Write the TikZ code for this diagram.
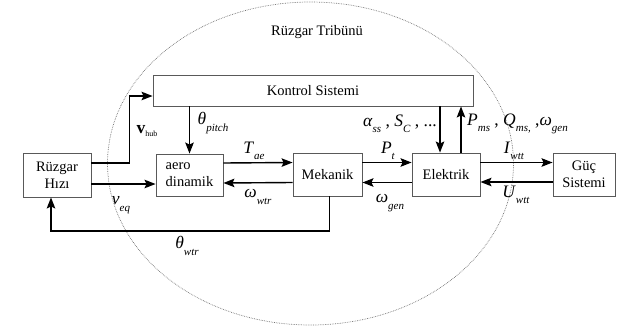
\documentclass[tikz,border=0pt]{standalone}
\usepackage{fontspec}
\setmainfont{Liberation Serif}
\usetikzlibrary{arrows.meta}
\begin{document}
\begin{tikzpicture}[x=1pt,y=-1pt,
    blok/.style={draw=black!65, line width=0.9pt, fill=white, inner sep=0pt, align=center, font=\fontsize{14.5}{17}\selectfont},
    ok/.style={line width=1.4pt, -{Stealth[length=11pt,width=8.5pt,inset=2pt]}},
    lbl/.style={inner sep=0pt, font=\fontsize{17.5}{17.5}\selectfont}]

    \useasboundingbox (0,0) rectangle (620,329);

    % Symbol with lowered subscript
    \def\sym#1#2{\textit{#1}\raisebox{-0.8ex}{\fontsize{11}{11}\selectfont\textit{#2}}}

    % Turbine boundary
    \draw[densely dotted, black!55, line width=0.7pt] (310.5,163.5) ellipse (203 and 161.5);
    \node[font=\fontsize{14.5}{17}\selectfont] (baslik) at (317,32) {Rüzgar Tribünü};

    % Blocks
    \node[blok, minimum width=68pt, minimum height=44pt] (hiz) at (57,175) {Rüzgar\\Hızı};
    \node[blok, minimum width=67pt, minimum height=42pt, align=left] (aero) at (189.5,175) {aero\\dinamik};
    \node[blok, minimum width=69pt, minimum height=43pt] (mek) at (327.5,174.5) {Mekanik};
    \node[blok, minimum width=68pt, minimum height=43pt] (elek) at (446,174.5) {Elektrik};
    \node[blok, minimum width=62pt, minimum height=43pt] (guc) at (584,174.5) {Güç\\Sistemi};
    \node[blok, minimum width=320pt, minimum height=31pt] (kontrol) at (313,90.5) {Kontrol Sistemi};

    % Wind inputs
    \draw[ok] ([yshift=12pt]hiz.east) -| ([xshift=-23pt,yshift=-5.5pt]kontrol.west) -- ([yshift=-5.5pt]kontrol.west);
    \draw[ok] ([yshift=-9pt]hiz.east) -- ([yshift=-9pt]aero.west);

    % Control signals
    \draw[ok] (aero.north |- kontrol.south) -- (aero.north);
    \draw[ok] ([xshift=-6pt]elek.north |- kontrol.south) -- ([xshift=-6pt]elek.north);
    \draw[ok] ([xshift=15pt]elek.north) -- ([xshift=15pt]elek.north |- kontrol.south);

    % Forward and back signals
    \draw[ok] ([yshift=12pt]aero.east) -- ([yshift=12pt]mek.west);
    \draw[ok] ([yshift=-8pt]mek.west) -- ([yshift=-8pt]aero.east);
    \draw[ok] ([yshift=12pt]mek.east) -- ([yshift=12pt]elek.west);
    \draw[ok] ([yshift=-8pt]elek.west) -- ([yshift=-8pt]mek.east);
    \draw[ok] ([yshift=12pt]elek.east) -- ([yshift=12pt]guc.west);
    \draw[ok] ([yshift=-7.5pt]guc.west) -- ([yshift=-7.5pt]elek.east);

    % Feedback to wind
    \coordinate (geri) at (51,231);
    \draw[ok] ([xshift=2pt]mek.south) |- (geri) -- ([xshift=-6pt]hiz.south);

    % Labels
    \node[lbl] (vhub) at (147,131) {\textbf{v}\raisebox{-0.3ex}{\fontsize{8}{8}\selectfont hub}};
    \node[lbl] (veq) at (121,205) {\sym{v}{eq}};
    \node[lbl] (tpitch) at (213,123) {\sym{θ}{pitch}};
    \node[lbl] (twtr) at (187,246) {\sym{θ}{wtr}};
    \node[lbl] (tae) at (254,151) {\sym{T}{ae}};
    \node[lbl] (owtr) at (258,197) {\sym{ω}{wtr}};
    \node[lbl] (pt) at (388,151) {\sym{P}{t}};
    \node[lbl] (ogen) at (390,203) {\sym{ω}{gen}};
    \node[lbl] (iwtt) at (514,151) {\sym{I}{wtt}};
    \node[lbl] (uwtt) at (516,195) {\sym{U}{wtt}};
    \node[lbl, anchor=west] (pms) at (467,124) {\sym{P}{ms} , \sym{Q}{ms,} ,\sym{ω}{gen}};
    \node[lbl, anchor=east] (alfa) at (437,124) {\sym{α}{ss} , \sym{S}{C} , ...};

\end{tikzpicture}
\end{document}
